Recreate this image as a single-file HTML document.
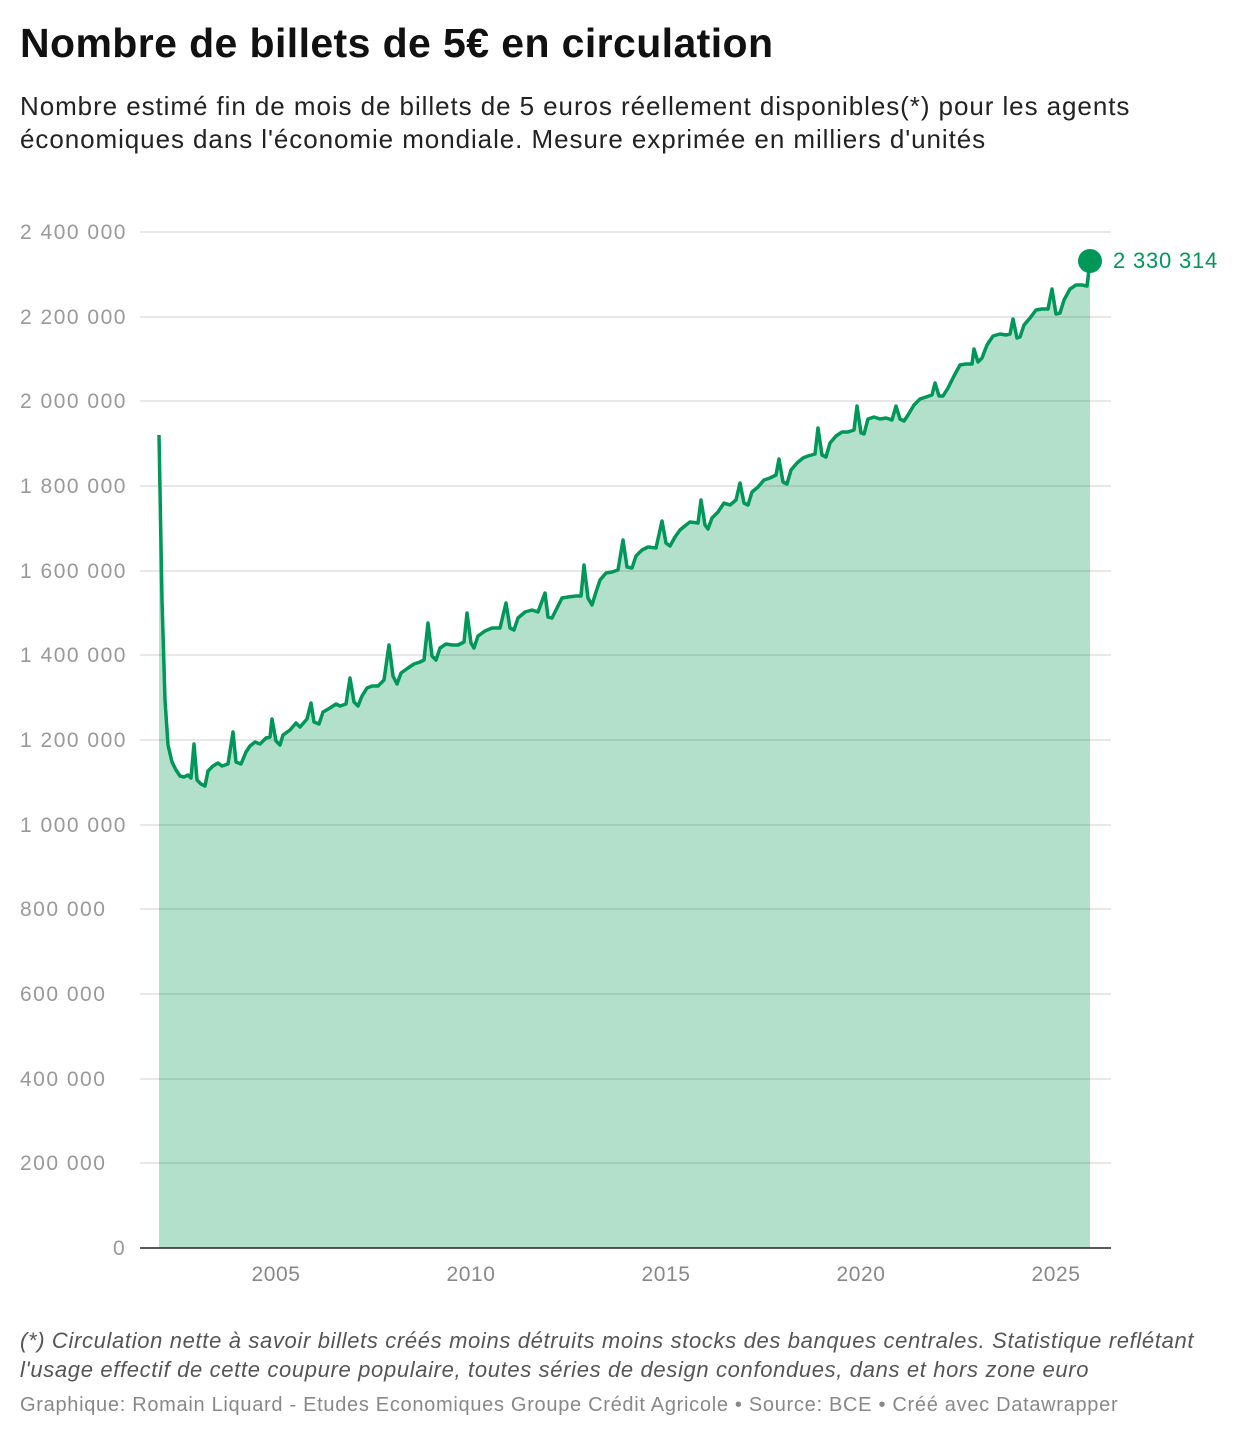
<!DOCTYPE html>
<html><head><meta charset="utf-8"><style>
body{margin:0;width:1240px;height:1440px;background:#fff;font-family:"Liberation Sans",sans-serif;position:relative;overflow:hidden}
.t{position:absolute;left:20px;top:20px;font-size:41px;font-weight:bold;color:#111;letter-spacing:0.4px;white-space:nowrap}
.s{position:absolute;left:20px;top:90px;font-size:26px;line-height:33px;color:#222;letter-spacing:0.93px;white-space:nowrap}
.f{position:absolute;left:20px;top:1326px;font-size:22px;line-height:29px;color:#555;font-style:italic;letter-spacing:0.65px;white-space:nowrap}
.c{position:absolute;left:20px;top:1394px;font-size:20px;color:#888;letter-spacing:0.7px;white-space:nowrap}
</style></head><body>
<div class="t">Nombre de billets de 5€ en circulation</div>
<div class="s">Nombre estimé fin de mois de billets de 5 euros réellement disponibles(*) pour les agents<br>économiques dans l'économie mondiale. Mesure exprimée en milliers d'unités</div>
<svg width="1240" height="1440" style="position:absolute;left:0;top:0" font-family="Liberation Sans, sans-serif">
<path id="p" d="M159,435 L162,600 L165,700 L168,745 L172,762 L176,770 L180,776 L184,777 L188,775 L191,778 L194,744 L197,780 L201,784 L205,786 L208,771 L213,766 L218,763 L222,766 L228,764 L233,732 L236,762 L241,764 L246,752 L250,746 L255,742 L260,744 L266,738 L270,737 L272,719 L276,741 L280,745 L283,735 L290,730 L296,723 L300,727 L307,719 L311,703 L314,722 L319,724 L323,712 L330,708 L336,704 L340,706 L346,704 L350,678 L354,702 L358,706 L362,696 L367,688 L372,686 L378,686 L384,680 L389,645 L393,676 L397,684 L401,673 L408,668 L414,664 L420,662 L424,660 L428,623 L432,656 L436,660 L440,648 L446,644 L452,645 L458,645 L464,642 L467,613 L471,643 L474,648 L478,636 L485,631 L492,628 L500,628 L506,603 L510,628 L514,630 L518,618 L525,612 L532,610 L538,612 L545,593 L548,617 L552,618 L556,610 L562,598 L568,597 L576,596 L581,596 L584,565 L588,598 L592,605 L596,592 L600,580 L606,573 L612,572 L618,570 L623,540 L627,567 L632,568 L636,556 L642,550 L648,547 L656,548 L662,521 L666,543 L670,546 L675,537 L680,530 L686,525 L690,522 L698,523 L701,500 L705,525 L708,529 L712,518 L718,512 L724,503 L730,505 L736,500 L740,483 L744,503 L748,505 L752,492 L758,487 L764,480 L770,478 L776,475 L779,459 L783,482 L787,484 L791,470 L797,463 L803,458 L808,456 L815,454 L818,428 L822,455 L826,457 L830,443 L836,436 L842,432 L848,432 L854,430 L857,406 L861,433 L864,434 L868,419 L874,417 L880,419 L886,418 L892,420 L896,406 L900,419 L904,421 L908,415 L914,405 L920,399 L926,397 L932,395 L935,383 L939,396 L943,396 L948,388 L954,376 L960,365 L966,364 L972,364 L974,349 L978,362 L982,358 L987,345 L993,336 L1000,334 L1006,335 L1010,334 L1013,319 L1017,338 L1020,337 L1024,325 L1030,318 L1036,310 L1042,309 L1048,309 L1052,289 L1056,314 L1060,313 L1064,300 L1070,289 L1076,285 L1082,285 L1087,286 L1090,261" fill="none"/>
<path d="M159,435 L162,600 L165,700 L168,745 L172,762 L176,770 L180,776 L184,777 L188,775 L191,778 L194,744 L197,780 L201,784 L205,786 L208,771 L213,766 L218,763 L222,766 L228,764 L233,732 L236,762 L241,764 L246,752 L250,746 L255,742 L260,744 L266,738 L270,737 L272,719 L276,741 L280,745 L283,735 L290,730 L296,723 L300,727 L307,719 L311,703 L314,722 L319,724 L323,712 L330,708 L336,704 L340,706 L346,704 L350,678 L354,702 L358,706 L362,696 L367,688 L372,686 L378,686 L384,680 L389,645 L393,676 L397,684 L401,673 L408,668 L414,664 L420,662 L424,660 L428,623 L432,656 L436,660 L440,648 L446,644 L452,645 L458,645 L464,642 L467,613 L471,643 L474,648 L478,636 L485,631 L492,628 L500,628 L506,603 L510,628 L514,630 L518,618 L525,612 L532,610 L538,612 L545,593 L548,617 L552,618 L556,610 L562,598 L568,597 L576,596 L581,596 L584,565 L588,598 L592,605 L596,592 L600,580 L606,573 L612,572 L618,570 L623,540 L627,567 L632,568 L636,556 L642,550 L648,547 L656,548 L662,521 L666,543 L670,546 L675,537 L680,530 L686,525 L690,522 L698,523 L701,500 L705,525 L708,529 L712,518 L718,512 L724,503 L730,505 L736,500 L740,483 L744,503 L748,505 L752,492 L758,487 L764,480 L770,478 L776,475 L779,459 L783,482 L787,484 L791,470 L797,463 L803,458 L808,456 L815,454 L818,428 L822,455 L826,457 L830,443 L836,436 L842,432 L848,432 L854,430 L857,406 L861,433 L864,434 L868,419 L874,417 L880,419 L886,418 L892,420 L896,406 L900,419 L904,421 L908,415 L914,405 L920,399 L926,397 L932,395 L935,383 L939,396 L943,396 L948,388 L954,376 L960,365 L966,364 L972,364 L974,349 L978,362 L982,358 L987,345 L993,336 L1000,334 L1006,335 L1010,334 L1013,319 L1017,338 L1020,337 L1024,325 L1030,318 L1036,310 L1042,309 L1048,309 L1052,289 L1056,314 L1060,313 L1064,300 L1070,289 L1076,285 L1082,285 L1087,286 L1090,261 L1090,1248 L159,1248 Z" fill="#b3e0ca"/>
<g stroke="#000" stroke-opacity="0.12" stroke-width="1.5">
<line x1="140" x2="1111" y1="232" y2="232"/><line x1="140" x2="1111" y1="317" y2="317"/><line x1="140" x2="1111" y1="401" y2="401"/><line x1="140" x2="1111" y1="486" y2="486"/><line x1="140" x2="1111" y1="571" y2="571"/><line x1="140" x2="1111" y1="655" y2="655"/><line x1="140" x2="1111" y1="740" y2="740"/><line x1="140" x2="1111" y1="825" y2="825"/><line x1="140" x2="1111" y1="909" y2="909"/><line x1="140" x2="1111" y1="994" y2="994"/><line x1="140" x2="1111" y1="1079" y2="1079"/><line x1="140" x2="1111" y1="1163" y2="1163"/>
</g>
<line x1="140" x2="1111" y1="1248" y2="1248" stroke="#222" stroke-width="1.5"/>
<use href="#p" stroke="#009758" stroke-width="3.5" stroke-linejoin="round"/>
<circle cx="1090" cy="261" r="12" fill="#009758"/>
<text x="1113" y="268" font-size="22" fill="#009758" letter-spacing="0.8">2 330 314</text>
<g font-size="21" fill="#999" letter-spacing="1.5">
<text x="20" y="239">2 400 000</text><text x="20" y="324">2 200 000</text><text x="20" y="408">2 000 000</text><text x="20" y="493">1 800 000</text><text x="20" y="578">1 600 000</text><text x="20" y="662">1 400 000</text><text x="20" y="747">1 200 000</text><text x="20" y="832">1 000 000</text><text x="20" y="916">800 000</text><text x="20" y="1001">600 000</text><text x="20" y="1086">400 000</text><text x="20" y="1170">200 000</text><text x="113" y="1255">0</text>
</g>
<g font-size="21" fill="#888" text-anchor="middle" letter-spacing="0.6">
<text x="276" y="1281">2005</text><text x="471" y="1281">2010</text><text x="666" y="1281">2015</text><text x="861" y="1281">2020</text><text x="1056" y="1281">2025</text>
</g>
</svg>
<div class="f">(*) Circulation nette à savoir billets créés moins détruits moins stocks des banques centrales. Statistique reflétant<br>l'usage effectif de cette coupure populaire, toutes séries de design confondues, dans et hors zone euro</div>
<div class="c">Graphique: Romain Liquard - Etudes Economiques Groupe Crédit Agricole • Source: BCE • Créé avec Datawrapper</div>
</body></html>
